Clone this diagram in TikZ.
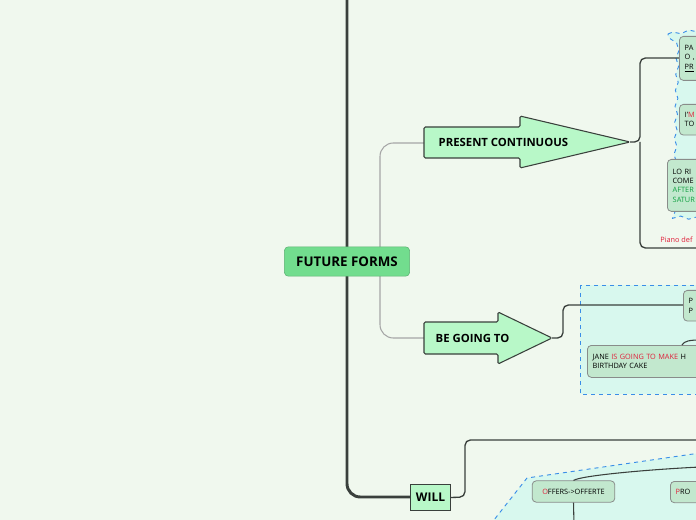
\documentclass[tikz,border=0pt]{standalone}
\usepackage{fontspec}
\setmainfont{Open Sans}
\usetikzlibrary{shapes.arrows,decorations.pathmorphing}
\definecolor{bg}{HTML}{F0F8EE}
\definecolor{topic}{HTML}{72DD8E}
\definecolor{arrowfill}{HTML}{B8F8C8}
\definecolor{sub}{HTML}{C2E8CE}
\definecolor{zone}{HTML}{D8F8EE}
\definecolor{zoneline}{HTML}{3A8EE8}
\definecolor{red1}{HTML}{E0203A}
\definecolor{grn1}{HTML}{10A040}
\definecolor{dk}{HTML}{3A403C}
\begin{document}
\begin{tikzpicture}[x=0.75pt,y=-0.75pt,
  sub/.style={draw=dk!60,fill=sub,rounded corners=3pt,line width=0.6pt,anchor=north west,align=left,font=\fontsize{5.5}{7}\selectfont,inner xsep=4pt,inner ysep=3pt},
  conn/.style={draw=dk,line width=1pt,rounded corners=4pt},
  thin/.style={draw=gray!70,line width=0.8pt,rounded corners=10pt},
  zonest/.style={draw=zoneline,dashed,fill=zone,line width=0.7pt}]
\useasboundingbox (0,0) rectangle (696,520);
\clip (0,0) rectangle (696,520);
\fill[bg] (0,0) rectangle (696,520);
% zones
\path[zonest,decorate,decoration={snake,amplitude=1pt,segment length=12pt}] (668,34) -- (700,30) -- (700,220) -- (664,218) -- cycle;
\path[zonest] (580,285) rectangle (700,394);
\path[zonest] (490,525) -- (527,478) -- (700,453) -- (700,525) -- cycle;
% main trunk
\draw[dk,line width=2.2pt,rounded corners=10pt] (347,-5) -- (347,497) -- (412,497);
% branches
\draw[thin] (380,261) -- (380,143) -- (426,143);
\draw[thin] (380,261) -- (380,338) -- (426,338);
% center
\node[draw=topic!80!black,fill=topic,rounded corners=3pt,minimum width=94pt,minimum height=22pt,font=\fontsize{10}{12}\selectfont\bfseries] (ff) at (347,261.5) {FUTURE FORMS};
% arrows
\path[draw=dk,line width=0.8pt,fill=arrowfill,rounded corners=1pt] (424,127) -- (520,127) -- (520,116) -- (630,142) -- (520,168) -- (520,158) -- (424,158) -- cycle;
\node[font=\fontsize{8.5}{10}\selectfont\bfseries,anchor=west] (pc) at (434,142.5) {PRESENT CONTINUOUS};
\path[draw=dk,line width=0.8pt,fill=arrowfill,rounded corners=1pt] (424,322) -- (498,322) -- (498,312) -- (552,338) -- (498,364) -- (498,354) -- (424,354) -- cycle;
\node[font=\fontsize{8.5}{10}\selectfont\bfseries,anchor=west] (bg) at (431,338) {BE GOING TO};
\node[draw=dk,fill=arrowfill,minimum width=30pt,minimum height=20pt,font=\fontsize{9}{10}\selectfont\bfseries,line width=0.8pt] (will) at (430.5,497.5) {WILL};
% connectors
\coordinate (pct) at (630,142);
\draw[conn] (pct) -- (640,142) -- (640,58) -- (681,58);
\draw[conn] (640,142) -- (640,248) -- (700,248);
\node[anchor=west,text=red1,font=\fontsize{5.5}{7}\selectfont,inner sep=0] (pd) at (660,240) {Piano def};
\coordinate (bgt) at (552,338);
\draw[conn] (bgt) -- (563,338) -- (563,305) -- (684,305);
\draw[conn] (will.east) -- (465,497) -- (465,440) -- (700,440);
% nodes
\node[sub,text width=30pt,minimum height=33pt] (n1) at (679,36) {PA\\O ,\\\underline{PR}};
\node[sub,text width=30pt,minimum height=23pt] (n2) at (679,104) {I'\textcolor{red1}{M}\\TO};
\node[sub,text width=40pt,minimum height=39pt] (n3) at (667,159) {LO RI\\COME\\\textcolor{grn1}{AFTER}\\\textcolor{grn1}{SATUR}};
\node[sub,text width=20pt,minimum height=23pt] (n4) at (683,290) {P\\P};
\node[sub,text width=120pt,minimum height=24pt] (n5) at (587,345) {JANE \textcolor{red1}{IS GOING TO MAKE} H\\BIRTHDAY CAKE};
\draw[dk,line width=0.8pt] (682,345) .. controls (684,341) and (690,340) .. (700,340);
\node[sub,minimum width=62pt,minimum height=16pt,anchor=center,align=center] (n6) at (573.5,491.5) {\textcolor{red1}{O}FFERS->OFFERTE};
\node[sub,text width=30pt,minimum height=16pt] (n7) at (670,481) {\textcolor{red1}{P}RO};
\draw[dk,line width=0.8pt] (n6.north) .. controls (580,476) and (640,470) .. (700,467);
\draw[dk,line width=0.8pt] (n6.south) -- (574,525);
\end{tikzpicture}
\end{document}
